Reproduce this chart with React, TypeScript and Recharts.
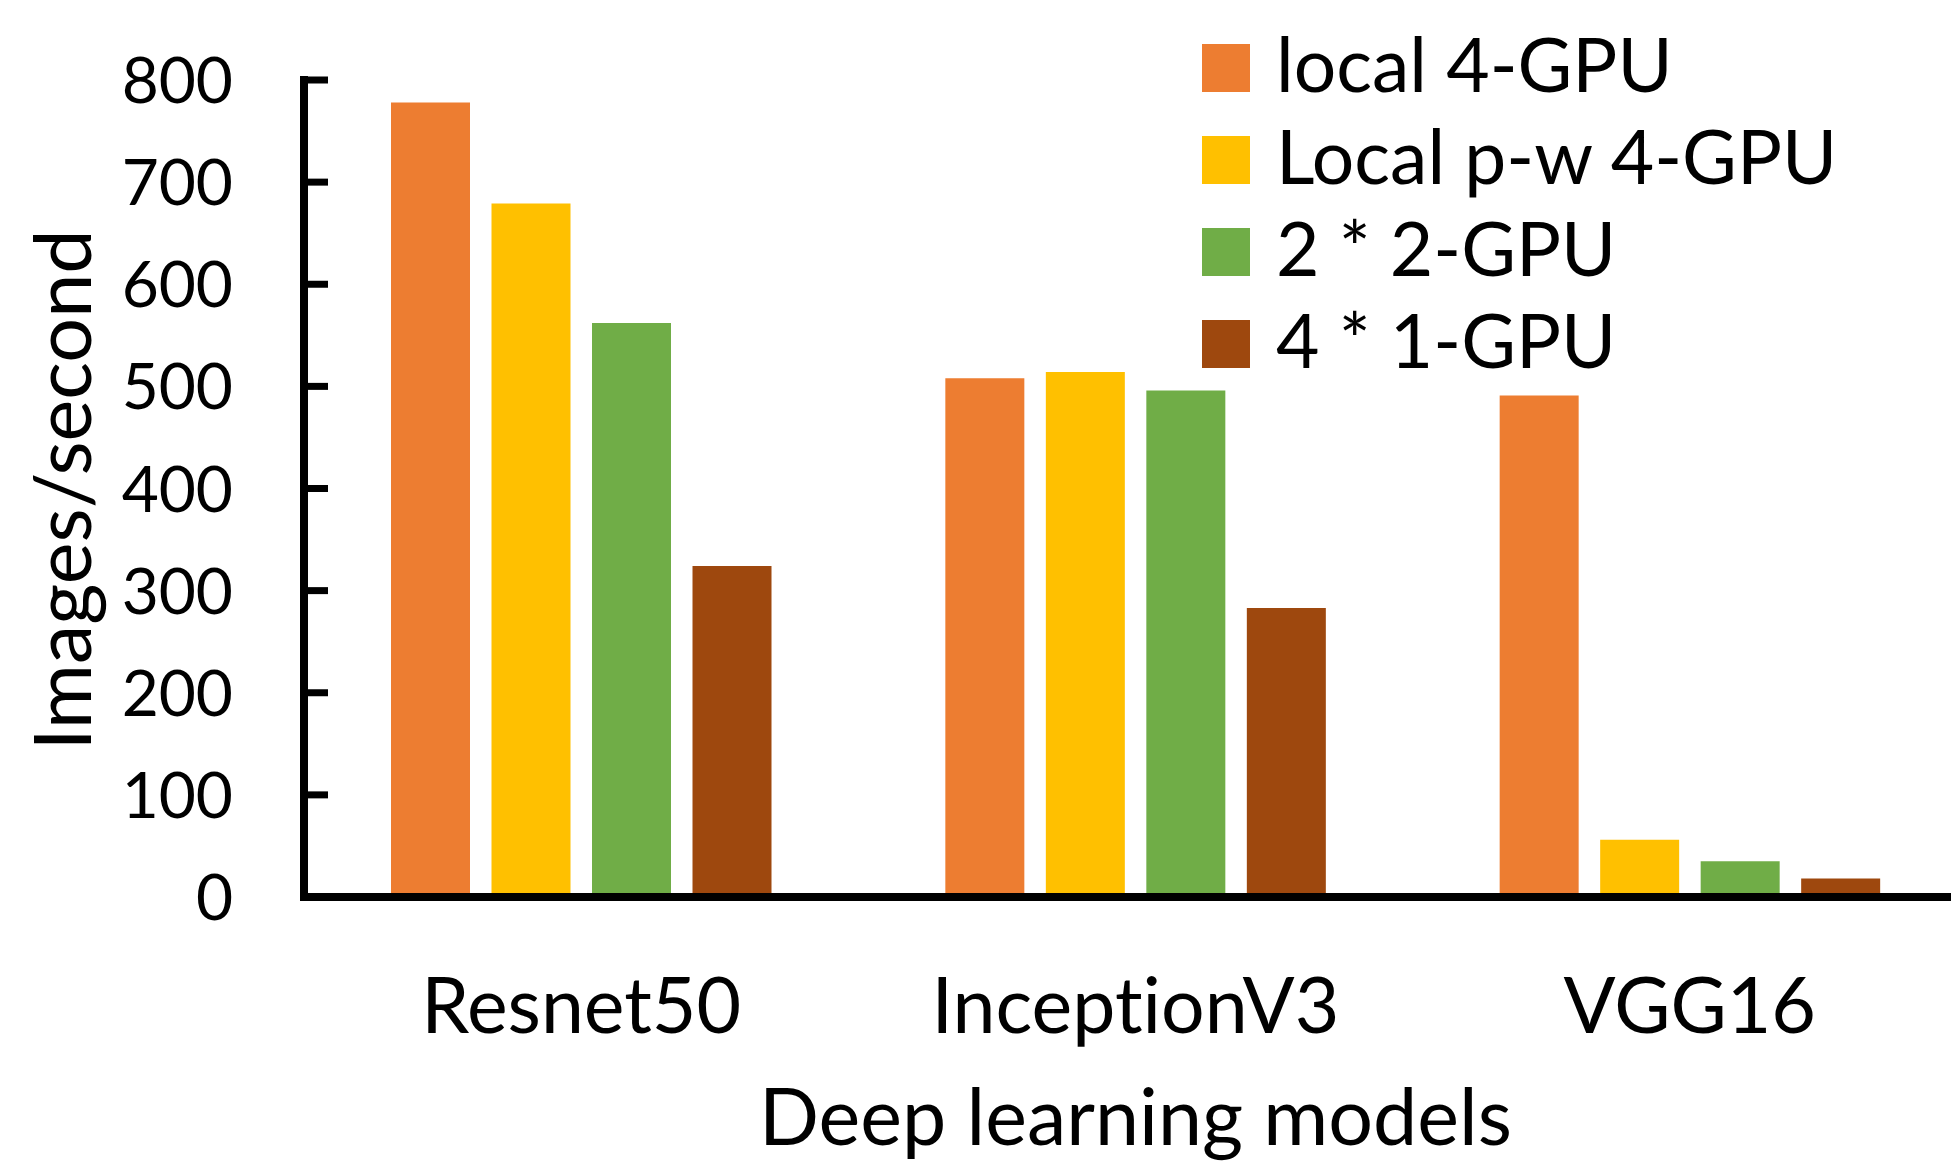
import React from "react";
import { BarChart, Bar, XAxis, YAxis, Legend, Label } from "recharts";

const FONT = "Lato, 'Open Sans', sans-serif";
const NO_LIGA: React.CSSProperties = { fontVariantLigatures: "none", fontFeatureSettings: '"liga" 0' };

const models = ["Resnet50", "InceptionV3", "VGG16"];
const local4Gpu = [778, 508, 491];
const localPw4Gpu = [679, 514, 56];
const twoByTwoGpu = [562, 496, 35];
const fourByOneGpu = [324, 283, 18];
const yTicks = [0, 100, 200, 300, 400, 500, 600, 700, 800];

const seriesNames = ["local 4-GPU", "Local p-w 4-GPU", "2 * 2-GPU", "4 * 1-GPU"];
const seriesColors = ["#ED7D31", "#FFC000", "#70AD47", "#9E480E"];
const seriesValues = [local4Gpu, localPw4Gpu, twoByTwoGpu, fourByOneGpu];

const data = models.map((model, i) => {
  const row: Record<string, string | number> = { model };
  seriesValues.forEach((vals, s) => {
    row[`s${s}`] = vals[i];
  });
  return row;
});

// y ticks point inward, so draw them together with the label
const YTick = (props: any) => {
  const { x, y, payload } = props;
  return (
    <g>
      <line x1={x} x2={x + 24} y1={y} y2={y} stroke="#000" strokeWidth={7} />
      <text x={x - 71} y={y + 23} textAnchor="end" fontSize={64} fontFamily={FONT} fill="#000">
        {payload.value}
      </text>
    </g>
  );
};

const XTick = (props: any) => {
  const { x, y, payload } = props;
  return (
    <text
      x={x}
      y={y + 136}
      textAnchor="middle"
      fontSize={77}
      fontFamily={FONT}
      fill="#000"
      style={NO_LIGA}
    >
      {payload.value}
    </text>
  );
};

const renderLegend = () => (
  <div>
    {seriesNames.map((name, i) => (
      <div key={name} style={{ display: "flex", alignItems: "center", height: 92 }}>
        <span style={{ display: "inline-block", width: 48, height: 48, background: seriesColors[i] }} />
        <span
          style={{
            marginLeft: 26,
            fontSize: 75,
            lineHeight: "75px",
            fontFamily: FONT,
            color: "#000",
            whiteSpace: "nowrap",
            position: "relative",
            top: -5,
            ...NO_LIGA,
          }}
        >
          {name}
        </span>
      </div>
    ))}
  </div>
);

const App: React.FC = () => {
  return (
    <div
      style={{
        position: "absolute",
        left: 0,
        top: 0,
        width: 1951,
        height: 1161,
        overflow: "hidden",
        background: "#fff",
      }}
    >
      <BarChart
        width={1967}
        height={1161}
        data={data}
        margin={{ top: 80, right: 0, bottom: 0, left: 0 }}
        barGap={21.5}
      >
        <XAxis
          dataKey="model"
          height={264}
          interval={0}
          tickLine={false}
          tickSize={0}
          tickMargin={0}
          tick={<XTick />}
          axisLine={{ stroke: "#000", strokeWidth: 8, strokeLinecap: "square" }}
        >
          <Label
            content={(p: any) => {
              const vb = p.viewBox;
              return (
                <text
                  x={vb.x + vb.width / 2}
                  y={vb.y + 248}
                  textAnchor="middle"
                  fontSize={79}
                  fontFamily={FONT}
                  fill="#000"
                  style={NO_LIGA}
                >
                  Deep learning models
                </text>
              );
            }}
          />
        </XAxis>
        <YAxis
          type="number"
          width={304}
          domain={[0, 800]}
          ticks={yTicks}
          interval={0}
          tickLine={false}
          tickSize={0}
          tickMargin={0}
          tick={<YTick />}
          axisLine={{ stroke: "#000", strokeWidth: 8, strokeLinecap: "square" }}
        >
          <Label
            content={(p: any) => {
              const vb = p.viewBox;
              const cx = 91;
              const cy = vb.y + 410;
              return (
                <text
                  x={cx}
                  y={cy}
                  transform={`rotate(-90, ${cx}, ${cy})`}
                  textAnchor="middle"
                  fontSize={79}
                  fontFamily={FONT}
                  fill="#000"
                  style={NO_LIGA}
                >
                  Images/second
                </text>
              );
            }}
          />
        </YAxis>
        <Legend
          layout="vertical"
          align="center"
          verticalAlign="middle"
          wrapperStyle={{ left: 1202, top: 22 }}
          content={renderLegend}
        />
        {seriesNames.map((name, i) => (
          <Bar
            key={name}
            dataKey={`s${i}`}
            name={name}
            fill={seriesColors[i]}
            barSize={79}
            isAnimationActive={false}
          />
        ))}
      </BarChart>
    </div>
  );
};

export default App;
